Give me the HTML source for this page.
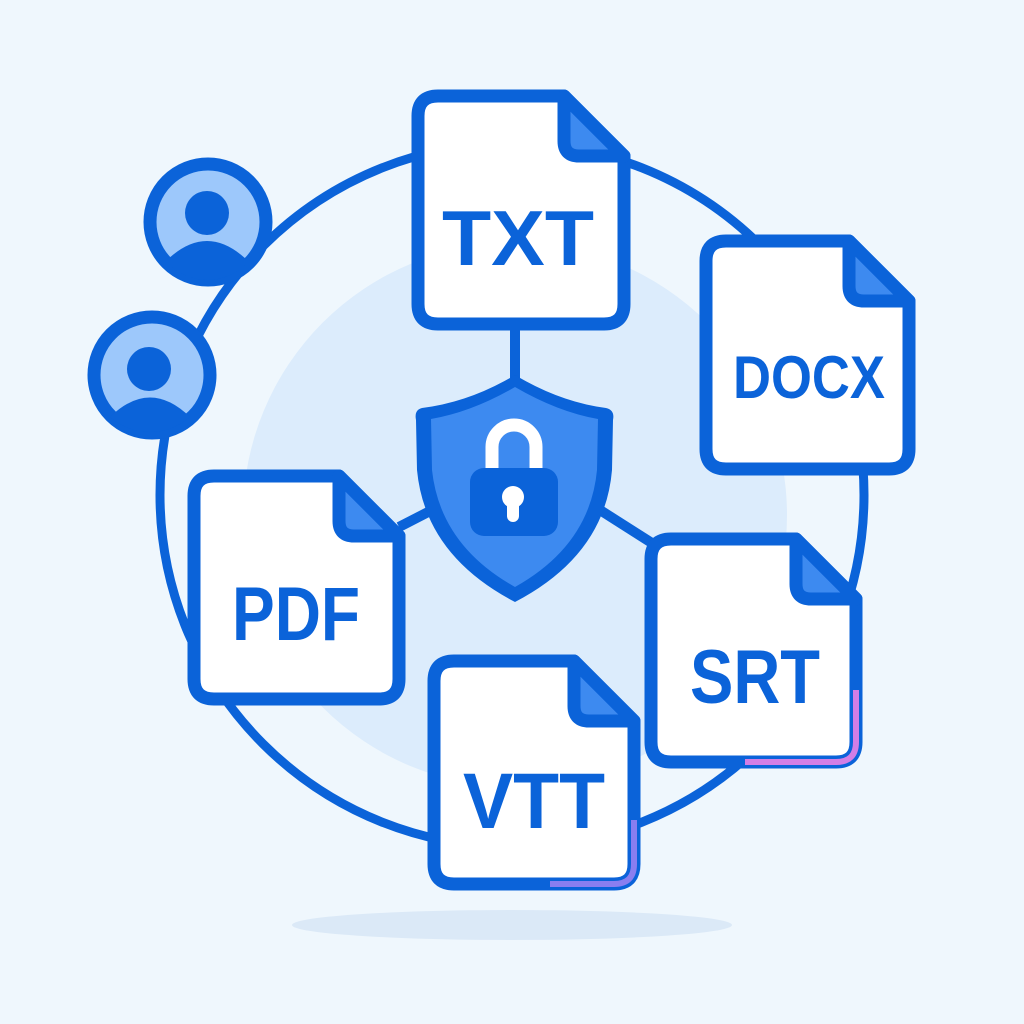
<!DOCTYPE html>
<html><head><meta charset="utf-8"><style>
html,body{margin:0;padding:0;background:#eff7fd;}
svg{display:block}
text{font-family:"Liberation Sans",sans-serif;font-weight:bold;fill:#0b63d9;text-anchor:middle}
</style></head><body>
<svg width="1024" height="1024" viewBox="0 0 1024 1024">
<rect width="1024" height="1024" fill="#eff7fd"/>
<ellipse cx="512" cy="925" rx="220" ry="15" fill="#dbe9f7"/>
<circle cx="515" cy="515" r="272" fill="#dcecfc"/>
<circle cx="512" cy="495" r="352" fill="none" stroke="#0b63d9" stroke-width="9"/>
<!-- connectors -->
<line x1="515" y1="324" x2="515" y2="380" stroke="#0b63d9" stroke-width="10"/>
<line x1="399" y1="527" x2="432" y2="510" stroke="#0b63d9" stroke-width="10"/>
<line x1="600" y1="510" x2="655" y2="545" stroke="#0b63d9" stroke-width="10"/>
<!-- users -->
<g>
<circle cx="208" cy="222" r="58" fill="#9dc8fb" stroke="#0b63d9" stroke-width="13"/>
<circle cx="207" cy="213" r="22" fill="#0b63d9"/>
<path d="M165 262 Q207 220 249 262 Q230 280 208 280 Q185 280 165 262Z" fill="#0b63d9"/>
</g>
<g>
<circle cx="152" cy="375" r="58" fill="#9dc8fb" stroke="#0b63d9" stroke-width="13"/>
<circle cx="149" cy="369" r="22" fill="#0b63d9"/>
<path d="M110 417 Q150 378 190 417 Q172 432 150 432 Q128 432 110 417Z" fill="#0b63d9"/>
</g>
<!-- shield -->
<path d="M515 375 Q470 402 422 408 Q414 410 416 420 L417 470 Q425 555 515 602 Q605 555 612 470 L613 420 Q615 410 606 408 Q560 402 515 375Z" fill="#0b63d9"/>
<path d="M515 387 Q472 412 431 419 L432 470 Q440 545 515 587 Q590 545 597 470 L598 419 Q558 412 515 387Z" fill="#3d8af0"/>
<path d="M492 468 V447 A22 22 0 0 1 536 447 V468" fill="none" stroke="#fff" stroke-width="13"/>
<rect x="470" y="468" width="88" height="68" rx="14" fill="#0b63d9"/>
<circle cx="513" cy="497" r="11" fill="#fff"/>
<rect x="507" y="498" width="12" height="24" rx="6" fill="#fff"/>
<!-- docs -->
<g stroke="#0b63d9" stroke-width="13" stroke-linejoin="round">
<path d="M438 96 H564 L624 156 V304 Q624 324 604 324 H438 Q418 324 418 304 V116 Q418 96 438 96Z" fill="#fff"/>
<path d="M564 96 V141 Q564 156 579 156 H624 Z" fill="#3d8af0"/>
<path d="M726 241 H849 L909 301 V449 Q909 469 889 469 H726 Q706 469 706 449 V261 Q706 241 726 241Z" fill="#fff"/>
<path d="M849 241 V286 Q849 301 864 301 H909 Z" fill="#3d8af0"/>
<path d="M214 476 H339 L399 536 V679 Q399 699 379 699 H214 Q194 699 194 679 V496 Q194 476 214 476Z" fill="#fff"/>
<path d="M339 476 V521 Q339 536 354 536 H399 Z" fill="#3d8af0"/>
<path d="M671 539 H796 L856 599 V742 Q856 762 836 762 H671 Q651 762 651 742 V559 Q651 539 671 539Z" fill="#fff"/>
<path d="M796 539 V584 Q796 599 811 599 H856 Z" fill="#3d8af0"/>
<path d="M454 661 H574 L634 721 V864 Q634 884 614 884 H454 Q434 884 434 864 V681 Q434 661 454 661Z" fill="#fff"/>
<path d="M574 661 V706 Q574 721 589 721 H634 Z" fill="#3d8af0"/>
</g>
<path d="M856 690 V742 Q856 762 836 762 H745" fill="none" stroke="#d27ee6" stroke-width="6"/>
<path d="M634 820 V864 Q634 884 614 884 H550" fill="none" stroke="#8a7ef0" stroke-width="6"/>
<text x="518" y="265" font-size="78" textLength="152" lengthAdjust="spacingAndGlyphs">TXT</text>
<text x="809" y="398" font-size="60" textLength="152" lengthAdjust="spacingAndGlyphs">DOCX</text>
<text x="296" y="640" font-size="76" textLength="128" lengthAdjust="spacingAndGlyphs">PDF</text>
<text x="755" y="703" font-size="76" textLength="130" lengthAdjust="spacingAndGlyphs">SRT</text>
<text x="534" y="828" font-size="79" textLength="142" lengthAdjust="spacingAndGlyphs">VTT</text>
</svg>
</body></html>
